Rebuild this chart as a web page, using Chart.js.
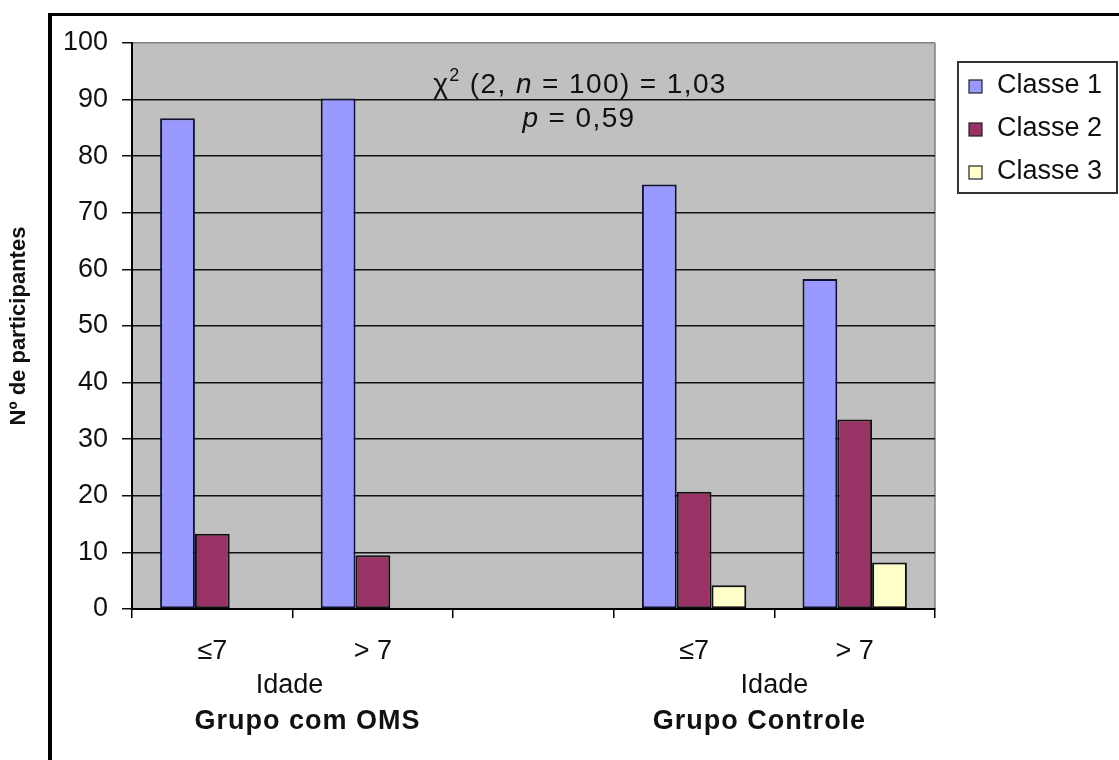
<!DOCTYPE html>
<html>
<head>
<meta charset="utf-8">
<script src="https://cdn.jsdelivr.net/npm/chart.js@4.4.0/dist/chart.umd.min.js"></script>
<style>
  html, body { margin: 0; padding: 0; background: #fff; }
  #wrap { width: 1119px; height: 760px; }
</style>
</head>
<body>
<div id="wrap"><canvas id="chart" width="1119" height="760"></canvas></div>
<script>
const categories = ['≤7', '> 7', '', '≤7', '> 7'];
const seriesNames = ['Classe 1', 'Classe 2', 'Classe 3'];
const classe1 = [86.7, 90.2, null, 75.0, 58.3];
const classe2 = [13.3, 9.5, null, 20.7, 33.5];
const classe3 = [0, 0, null, 4.2, 8.2];
const groupLabels = ['Grupo com OMS', 'Grupo Controle'];
const subLabel = 'Idade';
const yTitle = 'Nº de participantes';

const FONT = "'Liberation Sans', Arial, sans-serif";
const colors = ['#9999ff', '#993366', '#ffffcc'];

// frame, plot background, legend and extra texts
const decorPlugin = {
    id: 'decor',
    beforeDraw(chart) {
        const ctx = chart.ctx;
        const a = chart.chartArea;
        ctx.save();
        ctx.fillStyle = '#fff';
        ctx.fillRect(0, 0, chart.width, chart.height);
        // black frame (top + left)
        ctx.fillStyle = '#000';
        ctx.fillRect(48, 13, chart.width - 48, 3);
        ctx.fillRect(48, 13, 4, chart.height - 13);
        // plot area
        ctx.fillStyle = '#c0c0c0';
        ctx.fillRect(a.left, a.top, a.right - a.left, a.bottom - a.top);
        ctx.strokeStyle = '#808080';
        ctx.lineWidth = 1.5;
        ctx.beginPath();
        ctx.moveTo(a.right, a.top);
        ctx.lineTo(a.right, a.bottom);
        ctx.stroke();
        ctx.restore();
    },
    afterDraw(chart) {
        const ctx = chart.ctx;
        const a = chart.chartArea;
        const x = chart.scales.x;
        ctx.save();
        ctx.fillStyle = '#111';
        ctx.textAlign = 'center';
        ctx.textBaseline = 'alphabetic';

        // Idade + group names
        const mid1 = (x.getPixelForValue(0) + x.getPixelForValue(1)) / 2;
        const mid2 = (x.getPixelForValue(3) + x.getPixelForValue(4)) / 2;
        ctx.font = '27px ' + FONT;
        ctx.fillText(subLabel, mid1 - 3, a.bottom + 84);
        ctx.fillText(subLabel, mid2, a.bottom + 84);
        ctx.font = 'bold 27px ' + FONT;
        ctx.letterSpacing = '1px';
        ctx.fillText(groupLabels[0], mid1 + 15, a.bottom + 120);
        ctx.fillText(groupLabels[1], mid2 - 15, a.bottom + 120);

        // chi-square annotation
        ctx.letterSpacing = '1.4px';
        const parts = [
            ['χ', '28px ' + FONT, 0],
            ['2', '18px ' + FONT, -12],
            [' (2, ', '28px ' + FONT, 0],
            ['n', 'italic 28px ' + FONT, 0],
            [' = 100) = 1,03', '28px ' + FONT, 0]
        ];
        let total = 0;
        parts.forEach(p => { ctx.font = p[1]; total += ctx.measureText(p[0]).width; });
        let cx = 580 - total / 2;
        ctx.textAlign = 'left';
        parts.forEach(p => {
            ctx.font = p[1];
            ctx.fillText(p[0], cx, 93 + p[2]);
            cx += ctx.measureText(p[0]).width;
        });
        const parts2 = [
            ['p', 'italic 28px ' + FONT],
            [' = 0,59', '28px ' + FONT]
        ];
        total = 0;
        parts2.forEach(p => { ctx.font = p[1]; total += ctx.measureText(p[0]).width; });
        cx = 579 - total / 2;
        parts2.forEach(p => {
            ctx.font = p[1];
            ctx.fillText(p[0], cx, 127);
            cx += ctx.measureText(p[0]).width;
        });
        ctx.letterSpacing = '0px';

        // legend
        ctx.fillStyle = '#fff';
        ctx.fillRect(958, 62, 159, 131);
        ctx.strokeStyle = '#333';
        ctx.lineWidth = 2;
        ctx.strokeRect(958, 62, 159, 131);
        ctx.font = '27px ' + FONT;
        ctx.textBaseline = 'middle';
        seriesNames.forEach((name, i) => {
            const cy = 86 + i * 43;
            ctx.fillStyle = colors[i];
            ctx.fillRect(969, cy - 6, 13, 13);
            ctx.strokeStyle = '#222';
            ctx.lineWidth = 1.2;
            ctx.strokeRect(969, cy - 6, 13, 13);
            ctx.fillStyle = '#111';
            ctx.fillText(name, 997, cy);
        });
        ctx.restore();
    }
};

const ctx = document.getElementById('chart').getContext('2d');
new Chart(ctx, {
    type: 'bar',
    plugins: [decorPlugin],
    data: {
        labels: categories,
        datasets: [
            { label: seriesNames[0], data: classe1, backgroundColor: colors[0], borderColor: '#111133', borderWidth: 2, borderSkipped: false },
            { label: seriesNames[1], data: classe2, backgroundColor: colors[1], borderColor: '#111', borderWidth: 2, borderSkipped: false },
            { label: seriesNames[2], data: classe3, backgroundColor: colors[2], borderColor: '#111', borderWidth: 2, borderSkipped: false }
        ]
    },
    options: {
        responsive: false,
        animation: false,
        layout: {
            padding: { left: 0, top: 43, right: 184, bottom: 0 }
        },
        plugins: {
            legend: { display: false },
            tooltip: { enabled: false }
        },
        datasets: {
            bar: { categoryPercentage: 0.65, barPercentage: 1.0 }
        },
        scales: {
            x: {
                afterFit: function(scale) { scale.height = 151; },
                grid: {
                    drawOnChartArea: false,
                    drawTicks: true,
                    tickLength: 9,
                    color: '#000',
                    lineWidth: 1.5
                },
                border: { display: true, color: '#000', width: 2 },
                ticks: {
                    color: '#111',
                    padding: 17,
                    font: { size: 27, family: FONT }
                }
            },
            y: {
                min: 0,
                max: 100,
                afterFit: function(scale) { scale.width = 132; },
                title: {
                    display: true,
                    text: yTitle,
                    color: '#111',
                    padding: { top: 6, bottom: 0 },
                    font: { size: 22, weight: 'bold', family: FONT }
                },
                grid: {
                    color: function(c) { return c.tick && c.tick.value === 100 ? '#808080' : '#111'; },
                    tickColor: '#111',
                    lineWidth: 1.5,
                    tickLength: 10
                },
                border: { display: true, color: '#000', width: 2 },
                ticks: {
                    stepSize: 10,
                    color: '#111',
                    padding: 14,
                    font: { size: 27, family: FONT }
                }
            }
        }
    }
});
</script>
</body>
</html>
